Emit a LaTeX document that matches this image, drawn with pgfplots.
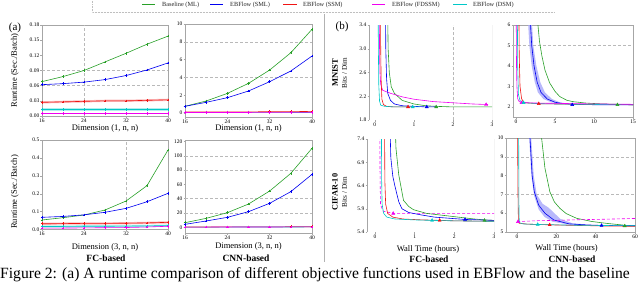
\documentclass[border=0pt]{standalone}
\usepackage{fontspec}
\setmainfont{Liberation Serif}
\usepackage{pgfplots}
\pgfplotsset{compat=1.18}
\definecolor{cG}{RGB}{40,160,40}
\definecolor{cB}{RGB}{0,0,240}
\definecolor{cR}{RGB}{240,20,20}
\definecolor{cM}{RGB}{240,0,240}
\definecolor{cC}{RGB}{0,200,200}
\pgfplotsset{
 base/.style={scale only axis, axis line style={gray!70, line width=0.5pt},
   tick style={gray!70, line width=0.4pt}, major tick length=1.5pt, tick align=outside,
   xtick pos=bottom, ytick pos=left,
   tick label style={font=\fontsize{5.5}{6}\selectfont, inner sep=1pt},
   /pgf/number format/assume math mode=true, scaled ticks=false,
   label style={font=\fontsize{8.5}{9}\selectfont},
   major grid style={densely dashed, gray!55, line width=0.4pt},
   extra tick style={grid=major, major tick length=0pt},
   extra x tick labels={}, extra y tick labels={}},
 aplot/.style={mark=+, mark size=1.3pt, line width=0.6pt, mark options={solid}, forget plot},
 band/.style={line width=2.2pt, opacity=0.3, forget plot, mark=none},
 bplot/.style={line width=0.6pt, mark=none, forget plot},
 tri/.style={only marks, mark=triangle*, mark size=1.8pt, forget plot},
 bandfill/.style={fill=cB!35, draw=none, opacity=0.8, forget plot},
}
\begin{document}
\begin{tikzpicture}
\path[use as bounding box] (0pt,0pt) rectangle (640pt,282pt);

% ---------- (a) top-left
\begin{axis}[base, at={(42pt,166pt)}, anchor=south west, width=126pt, height=91pt,
  xmin=16, xmax=40, ymin=0, ymax=0.18,
  xtick={16,24,32,40}, ytick={0,0.03,0.06,0.09,0.12,0.15,0.18},
  yticklabel style={/pgf/number format/fixed, /pgf/number format/precision=2, /pgf/number format/fixed zerofill},
  extra y ticks={0.06,0.09}, extra x ticks={24},
  xlabel={Dimension (1, n, n)}, xlabel style={at={(axis description cs:0.5,-0.135)}, anchor=center},
  ylabel={Runtime (Sec./Batch)}, ylabel style={at={(axis description cs:-0.215,0.5)}, anchor=center},
]
\addplot[aplot, color=cG] coordinates {(16,0.068)(20,0.078)(24,0.090)(28,0.107)(32,0.124)(36,0.142)(40,0.158)};
\addplot[aplot, color=cB] coordinates {(16,0.062)(20,0.064)(24,0.067)(28,0.072)(32,0.080)(36,0.091)(40,0.105)};
\addplot[band, color=cR] coordinates {(16,0.027)(20,0.028)(24,0.029)(28,0.030)(32,0.030)(36,0.031)(40,0.032)};
\addplot[aplot, color=cR] coordinates {(16,0.027)(20,0.028)(24,0.029)(28,0.030)(32,0.030)(36,0.031)(40,0.032)};
\addplot[aplot, color=cM] coordinates {(16,0.005)(20,0.005)(24,0.005)(28,0.005)(32,0.005)(36,0.005)(40,0.005)};
\addplot[band, color=cC] coordinates {(16,0.013)(20,0.013)(24,0.013)(28,0.013)(32,0.013)(36,0.013)(40,0.013)};
\addplot[aplot, color=cC] coordinates {(16,0.013)(20,0.013)(24,0.013)(28,0.013)(32,0.013)(36,0.013)(40,0.013)};
\end{axis}

% ---------- (a) top-right
\begin{axis}[base, at={(185pt,165pt)}, anchor=south west, width=127pt, height=93pt,
  xmin=16, xmax=40, ymin=-0.45, ymax=10,
  xtick={16,24,32,40}, ytick={0,2,4,6,8,10},
  extra y ticks={4,8},
  xlabel={Dimension (1, n, n)}, xlabel style={at={(axis description cs:0.5,-0.12)}, anchor=center},
]
\addplot[aplot, color=cG] coordinates {(16,0.75)(20,1.35)(24,2.2)(28,3.33)(32,4.83)(36,6.77)(40,9.4)};
\addplot[aplot, color=cB] coordinates {(16,0.75)(20,1.2)(24,1.72)(28,2.47)(32,3.52)(36,4.72)(40,6.4)};
\addplot[aplot, color=cC] coordinates {(16,0.05)(20,0.05)(24,0.05)(28,0.05)(32,0.05)(36,0.05)(40,0.06)};
\addplot[aplot, color=cR] coordinates {(16,0.12)(20,0.12)(24,0.13)(28,0.13)(32,0.14)(36,0.15)(40,0.18)};
\addplot[aplot, color=cM] coordinates {(16,0.06)(20,0.06)(24,0.06)(28,0.06)(32,0.07)(36,0.07)(40,0.08)};
\end{axis}

% ---------- (a) bottom-left
\begin{axis}[base, at={(42pt,52.5pt)}, anchor=south west, width=126pt, height=89.5pt,
  xmin=16, xmax=40, ymin=0, ymax=0.5,
  xtick={16,24,32,40}, ytick={0,0.1,0.2,0.3,0.4,0.5},
  yticklabel style={/pgf/number format/fixed, /pgf/number format/precision=1, /pgf/number format/fixed zerofill},
  extra x ticks={32},
  xlabel={Dimension (3, n, n)}, xlabel style={at={(axis description cs:0.5,-0.196)}, anchor=center},
  ylabel={Runtime (Sec./Batch)}, ylabel style={at={(axis description cs:-0.215,0.42)}, anchor=center},
]
\addplot[aplot, color=cG] coordinates {(16,0.053)(20,0.066)(24,0.081)(28,0.109)(32,0.159)(36,0.245)(40,0.444)};
\addplot[aplot, color=cB] coordinates {(16,0.068)(20,0.073)(24,0.082)(28,0.096)(32,0.118)(36,0.155)(40,0.202)};
\addplot[band, color=cR] coordinates {(16,0.032)(20,0.033)(24,0.034)(28,0.034)(32,0.035)(36,0.037)(40,0.040)};
\addplot[aplot, color=cR] coordinates {(16,0.032)(20,0.033)(24,0.034)(28,0.034)(32,0.035)(36,0.037)(40,0.040)};
\addplot[band, color=cC] coordinates {(16,0.017)(20,0.017)(24,0.018)(28,0.018)(32,0.019)(36,0.020)(40,0.022)};
\addplot[aplot, color=cC] coordinates {(16,0.017)(20,0.017)(24,0.018)(28,0.018)(32,0.019)(36,0.020)(40,0.022)};
\addplot[aplot, color=cM] coordinates {(16,0.008)(20,0.008)(24,0.009)(28,0.010)(32,0.011)(36,0.014)(40,0.018)};
\end{axis}

% ---------- (a) bottom-right
\begin{axis}[base, at={(185pt,49pt)}, anchor=south west, width=127pt, height=93pt,
  xmin=16, xmax=40, ymin=-8, ymax=122,
  xtick={16,24,32,40}, ytick={0,20,40,60,80,100,120},
  extra y ticks={20,40,80,100},
  xlabel={Dimension (3, n, n)}, xlabel style={at={(axis description cs:0.5,-0.15)}, anchor=center},
]
\addplot[aplot, color=cG] coordinates {(16,6.4)(20,12.5)(24,20.4)(28,32.5)(32,50.7)(36,75.4)(40,110.4)};
\addplot[aplot, color=cB] coordinates {(16,4.1)(20,8.8)(24,13.9)(28,21.8)(32,33.5)(36,49.8)(40,74)};
\addplot[aplot, color=cR] coordinates {(16,0.4)(20,0.4)(24,0.5)(28,0.5)(32,0.6)(36,0.7)(40,0.8)};
\addplot[aplot, color=cC] coordinates {(16,0.3)(20,0.3)(24,0.3)(28,0.4)(32,0.4)(36,0.4)(40,0.5)};
\addplot[aplot, color=cM] coordinates {(16,0.3)(20,0.3)(24,0.4)(28,0.4)(32,0.4)(36,0.5)(40,0.5)};
\end{axis}

% ---------- (b) MNIST FC
\begin{axis}[base, at={(369pt,162pt)}, anchor=south west, width=123pt, height=95pt,
  axis line style={draw=none},
  xmin=-0.15, xmax=3, ymin=1.8, ymax=3.4,
  xtick={0,1,2,3}, ytick={1.8,2.2,2.6,3.0,3.4},
  yticklabel style={/pgf/number format/fixed, /pgf/number format/precision=1, /pgf/number format/fixed zerofill},
  extra x ticks={2},
]
\draw[gray!70, line width=0.6pt] (rel axis cs:0,0) -- (rel axis cs:0,1);
\draw[gray!70, line width=0.6pt] (rel axis cs:1,0) -- (rel axis cs:1,1);
\addplot[bplot, color=cG] coordinates {(0.32,4)(0.34,3.0)(0.37,2.6)(0.42,2.36)(0.5,2.25)(0.7,2.13)(1.0,2.07)(1.3,2.04)(1.57,2.03)(2.0,2.02)(3.0,2.02)};
\addplot[bplot, color=cM] coordinates {(0.11,4)(0.12,3.0)(0.13,2.6)(0.15,2.4)(0.2,2.3)(0.4,2.25)(0.7,2.19)(1.0,2.15)(1.5,2.11)(2.0,2.09)(2.5,2.07)(2.9,2.06)};
\addplot[bplot, color=cB] coordinates {(0.27,4)(0.28,3.0)(0.30,2.5)(0.33,2.25)(0.4,2.13)(0.5,2.07)(0.7,2.04)(1.0,2.03)(1.33,2.02)(1.6,2.02)};
\addplot[bplot, color=cR] coordinates {(0.14,4)(0.15,3.0)(0.16,2.5)(0.18,2.15)(0.22,2.06)(0.3,2.03)(0.5,2.02)(0.85,2.02)(1.0,2.02)};
\addplot[bplot, color=cC] coordinates {(0.08,4)(0.09,3.0)(0.10,2.4)(0.12,2.12)(0.15,2.05)(0.25,2.03)(0.5,2.02)(1.0,2.02)(1.15,2.02)};
\addplot[tri, color=cR] coordinates {(0.85,2.02)};
\addplot[tri, color=cC] coordinates {(0.97,2.02)};
\addplot[tri, color=cB] coordinates {(1.33,2.02)};
\addplot[tri, color=cG] coordinates {(1.57,2.02)};
\addplot[tri, color=cM] coordinates {(2.85,2.06)};
\end{axis}

% ---------- (b) MNIST CNN
\begin{axis}[base, at={(513pt,165pt)}, anchor=south west, width=120pt, height=92pt,
  xmin=-0.4, xmax=15, ymin=1.5, ymax=6,
  xtick={0,5,10,15}, ytick={2,3,4,5,6},
  extra y ticks={5},
]
\addplot[bandfill] coordinates {(2.05,6)(2.2,5)(2.6,4)(3.1,3.2)(3.7,2.7)(4.6,2.38)(5.6,2.22)(6.5,2.16)(5.5,2.16)(4.5,2.22)(3.5,2.38)(2.8,2.7)(2.4,3.2)(2.0,4)(1.7,5)(1.55,6)} -- cycle;
\addplot[bplot, color=cG] coordinates {(2.75,7)(2.8,6)(3.0,5.2)(3.3,4.5)(3.7,3.8)(4.3,3.17)(5.0,2.75)(5.6,2.5)(6.5,2.32)(7.3,2.25)(9,2.18)(11,2.14)(13,2.12)(15,2.1)};
\addplot[bplot, color=cB] coordinates {(1.75,7)(1.85,6)(2.0,5.0)(2.3,4.0)(2.7,3.2)(3.2,2.7)(4.0,2.38)(5,2.22)(6,2.16)(7.2,2.12)(10,2.1)(15,2.1)};
\addplot[bplot, color=cR] coordinates {(0.35,7)(0.4,4.5)(0.5,3)(0.7,2.4)(1.0,2.2)(2.9,2.15)(8,2.12)(15,2.1)};
\addplot[bplot, color=cC] coordinates {(0.15,7)(0.2,4)(0.3,2.6)(0.5,2.3)(1.0,2.2)(3,2.15)(8,2.12)(15,2.1)};
\addplot[bplot, color=cM] coordinates {(0.0,7)(0.05,4)(0.1,3)(0.2,2.4)(0.4,2.25)(1,2.2)(3,2.18)(8,2.15)(15,2.12)};
\addplot[tri, color=cM] coordinates {(0.7,2.2)};
\addplot[tri, color=cC] coordinates {(0.95,2.2)};
\addplot[tri, color=cR] coordinates {(2.9,2.15)};
\addplot[tri, color=cB] coordinates {(7.2,2.1)};
\addplot[tri, color=cG] coordinates {(13,2.1)};
\end{axis}

% ---------- (b) CIFAR FC
\begin{axis}[base, at={(367pt,50pt)}, anchor=south west, width=127pt, height=93pt,
  axis line style={draw=none},
  xmin=-0.2, xmax=3, ymin=5.4, ymax=7.4,
  xtick={0,1,2,3}, ytick={5.4,5.9,6.4,6.9,7.4},
  yticklabel style={/pgf/number format/fixed, /pgf/number format/precision=1, /pgf/number format/fixed zerofill},
  xlabel={Wall Time (hours)}, xlabel style={at={(axis description cs:0.48,-0.19)}, anchor=center},
]
\draw[gray!70, line width=0.6pt] (rel axis cs:0,0) -- (rel axis cs:0,1);
\draw[gray!70, line width=0.6pt] (rel axis cs:1,0) -- (rel axis cs:1,1);
\addplot[bplot, color=cM, densely dashed] coordinates {(0.12,8)(0.13,6.5)(0.14,6.0)(0.2,5.85)(0.46,5.8)(1,5.8)(2,5.8)(3,5.8)};
\addplot[bplot, color=cG] coordinates {(0.5,8)(0.53,7.2)(0.6,6.63)(0.72,6.08)(0.85,5.95)(0.97,5.88)(1.3,5.8)(2.0,5.73)(2.5,5.68)(2.76,5.66)(3,5.65)};
\addplot[bplot, color=cB] coordinates {(0.37,8)(0.4,7.0)(0.45,6.6)(0.5,6.4)(0.6,6.05)(0.68,5.9)(0.85,5.82)(1.15,5.77)(1.5,5.72)(2.27,5.67)(3,5.65)};
\addplot[bplot, color=cR] coordinates {(0.24,8)(0.25,6.5)(0.27,6.0)(0.32,5.8)(0.45,5.72)(0.7,5.68)(1.2,5.66)(1.65,5.65)(2,5.64)(3,5.63)};
\addplot[bplot, color=cC] coordinates {(0.16,8)(0.17,6.5)(0.18,6.0)(0.22,5.8)(0.3,5.72)(0.5,5.68)(1.0,5.66)(1.44,5.65)(2,5.64)(3,5.63)};
\addplot[tri, color=cM] coordinates {(0.46,5.8)};
\addplot[tri, color=cC] coordinates {(1.44,5.65)};
\addplot[tri, color=cR] coordinates {(1.63,5.65)};
\addplot[tri, color=cB] coordinates {(2.27,5.67)};
\addplot[tri, color=cG] coordinates {(2.76,5.65)};
\end{axis}

% ---------- (b) CIFAR CNN
\begin{axis}[base, at={(506pt,50pt)}, anchor=south west, width=129pt, height=94pt,
  xmin=-5.6, xmax=60, ymin=5, ymax=10,
  xtick={0,20,40,60}, ytick={5,6,7,8,9,10},
  extra y ticks={7,9},
  xlabel={Wall Time (hours)}, xlabel style={at={(axis description cs:0.47,-0.18)}, anchor=center},
]
\addplot[bandfill] coordinates {(7.2,10)(8.5,8)(10,7)(13,6.5)(16,6.3)(19,6.0)(22,5.7)(28,5.47)(35,5.4)(35,5.36)(26,5.4)(18,5.55)(14,5.8)(11,6.2)(8.8,6.9)(7.3,8)(6.2,10)} -- cycle;
\addplot[bplot, color=cG] coordinates {(12.2,11)(12.5,10)(14.2,8.4)(16.7,7.14)(19,6.6)(21.8,6.26)(25,5.98)(30.3,5.73)(38,5.56)(45.5,5.46)(54.8,5.36)(60,5.33)};
\addplot[bplot, color=cB] coordinates {(6.3,11)(6.6,10)(7.7,8.0)(8.8,7.14)(11,6.43)(14.2,6.0)(18.7,5.64)(26.6,5.43)(35,5.38)(43,5.35)(60,5.33)};
\addplot[bplot, color=cM, densely dashed] coordinates {(0,5.55)(10,5.6)(20,5.62)(30,5.65)(45,5.68)(60,5.72)};
\addplot[bplot, color=cR] coordinates {(0,11)(0.3,10)(0.5,7)(0.7,5.6)(1,5.47)(5,5.42)(17,5.38)(30,5.35)(45,5.32)(60,5.3)};
\addplot[bplot, color=cC] coordinates {(0.8,11)(1,6)(1.2,5.5)(3,5.43)(10.5,5.4)(30,5.36)(60,5.33)};
\addplot[tri, color=cM] coordinates {(0.5,5.55)};
\addplot[tri, color=cC] coordinates {(10.5,5.4)};
\addplot[tri, color=cR] coordinates {(16.6,5.38)};
\addplot[tri, color=cB] coordinates {(43,5.35)};
\addplot[tri, color=cG] coordinates {(54.8,5.32)};
\end{axis}

% ---------- legend (drawn as a key box)
\draw[gray!50, densely dotted, line width=0.5pt] (92pt,284pt) -- (92pt,270pt) -- (555pt,270pt);
\begin{scope}[font=\fontsize{6.3}{7}\selectfont, every node/.style={anchor=west, inner sep=0pt, text=black!85}]
\draw[cG, line width=1pt] (142pt,277pt) -- (155pt,277pt);
\node at (162pt,277pt) {Baseline (ML)};
\draw[cB, line width=1pt] (210pt,277pt) -- (223pt,277pt);
\node at (230pt,277pt) {EBFlow (SML)};
\draw[cR, line width=1pt] (283pt,277pt) -- (297pt,277pt);
\node at (303pt,277pt) {EBFlow (SSM)};
\draw[cM, line width=1pt] (372pt,277pt) -- (385pt,277pt);
\node at (392pt,277pt) {EBFlow (FDSSM)};
\draw[cC, line width=1pt] (453pt,277pt) -- (467pt,277pt);
\node at (473pt,277pt) {EBFlow (DSM)};
\end{scope}

% ---------- annotations
\draw[gray!60, line width=0.8pt] (324pt,268pt) -- (324pt,20pt);
\node[font=\fontsize{11}{12}\selectfont] at (15pt,254pt) {(a)};
\node[font=\fontsize{11}{12}\selectfont] at (342pt,255pt) {(b)};
\node[font=\bfseries\fontsize{8.5}{9}\selectfont, rotate=90] at (335pt,209pt) {MNIST};
\node[font=\fontsize{7.2}{8}\selectfont, rotate=90] at (344.5pt,209pt) {Bits / Dim};
\node[font=\bfseries\fontsize{8.2}{9}\selectfont, rotate=90] at (335pt,90pt) {CIFAR-10};
\node[font=\fontsize{7.2}{8}\selectfont, rotate=90] at (344.5pt,90pt) {Bits / Dim};
\node[font=\bfseries\fontsize{9.5}{10}\selectfont] at (106pt,24pt) {FC-based};
\node[font=\bfseries\fontsize{9.5}{10}\selectfont] at (246pt,24pt) {CNN-based};
\node[font=\bfseries\fontsize{9.5}{10}\selectfont] at (429pt,23pt) {FC-based};
\node[font=\bfseries\fontsize{9.5}{10}\selectfont] at (572pt,23pt) {CNN-based};
\node[anchor=base west, inner sep=0pt, font=\fontsize{15.6}{16}\selectfont] at (0pt,3.2pt) {Figure 2: (a) A runtime comparison of different objective functions used in EBFlow and the baseline};
\end{tikzpicture}
\end{document}
